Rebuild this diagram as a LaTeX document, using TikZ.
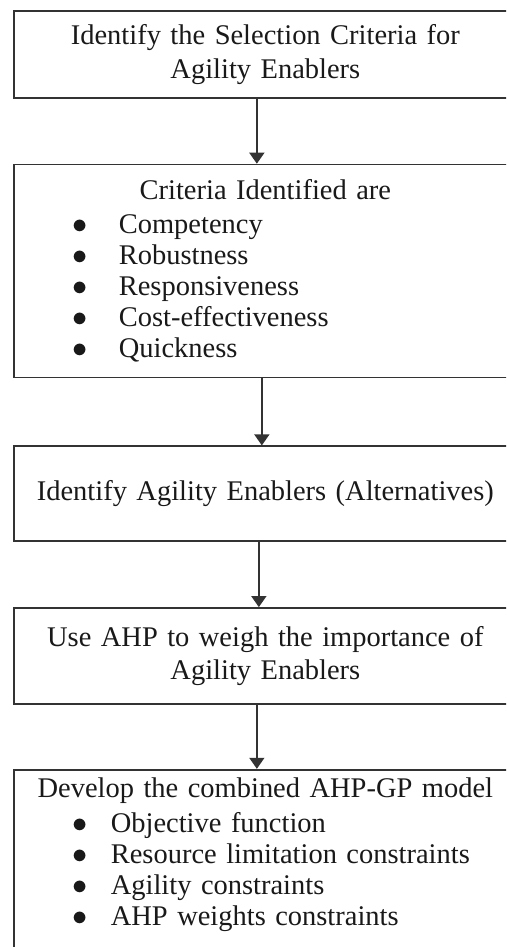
\documentclass[tikz,border=0pt]{standalone}
\usepackage{fontspec}
\setmainfont{Liberation Serif}
\usepackage{xcolor}
\usetikzlibrary{arrows.meta,positioning}
\definecolor{edgegray}{HTML}{333333}
\newcommand{\critline}[2]{\makebox[100.6mm][l]{\hspace*{11.8mm}\makebox[#1][l]{$\bullet$}#2}}

\begin{document}
\begin{tikzpicture}[
  node distance=13mm,
  box/.style={draw=edgegray,line width=0.34mm,align=center,text width=100.6mm,inner xsep=0mm,font=\fontsize{16.2}{17.6}\selectfont,text=black!90},
  arr/.style={-{Triangle[length=2.2mm,width=3mm]},line width=0.3mm,draw=edgegray}
]
  \useasboundingbox (0,0) rectangle (101.2mm,-189.4mm);
  \clip (0,0) rectangle (101.2mm,-189.4mm);
  \node[box, minimum height=17.4mm, anchor=north west] (criteria) at (2.6mm,-2mm) {Identify the Selection Criteria for\\[0.6mm]Agility Enablers};
  \node[box, minimum height=42.6mm, below=of criteria] (identified) {Criteria Identified are\\[0.6mm]
    \critline{9.2mm}{Competency}\\
    \critline{9.2mm}{Robustness}\\
    \critline{9.2mm}{Responsiveness}\\
    \critline{9.2mm}{Cost-effectiveness}\\
    \critline{9.2mm}{Quickness}};
  \node[box, minimum height=19mm, below=13.4mm of identified] (enablers) {Identify Agility Enablers (Alternatives)};
  \node[box, minimum height=19.2mm, below=of enablers] (ahp) {Use AHP to weigh the importance of\\[0.4mm]Agility Enablers};
  \node[box, minimum height=37.6mm, below=12.8mm of ahp] (model) {Develop the combined AHP-GP model\\[0.8mm]
    \critline{7.6mm}{Objective function}\\
    \critline{7.6mm}{Resource limitation constraints}\\
    \critline{7.6mm}{Agility constraints}\\
    \critline{7.6mm}{AHP weights constraints}\\[-1.4mm]\mbox{}};
  \draw[arr] ([xshift=-1.7mm]criteria.south) -- ([xshift=-1.7mm]identified.north);
  \draw[arr] ([xshift=-0.7mm]identified.south) -- ([xshift=-0.7mm]enablers.north);
  \draw[arr] ([xshift=-1.3mm]enablers.south) -- ([xshift=-1.3mm]ahp.north);
  \draw[arr] ([xshift=-1.7mm]ahp.south) -- ([xshift=-1.7mm]model.north);
\end{tikzpicture}
\end{document}
